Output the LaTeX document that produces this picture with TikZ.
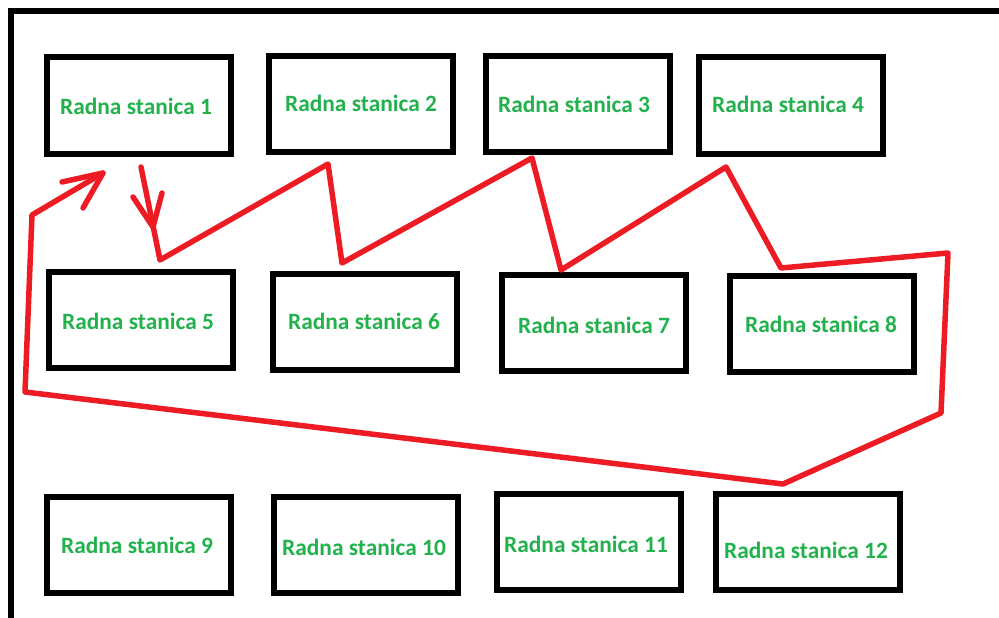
\documentclass[tikz,border=0pt]{standalone}
\usepackage{fontspec}
\setmainfont{Carlito}
\definecolor{pgreen}{HTML}{22B14C}
\definecolor{pred}{HTML}{ED1C24}
\begin{document}
\begin{tikzpicture}[x=1pt,y=-1pt,
  station/.style={draw=black,line width=6pt,minimum width=184pt,minimum height=96pt,inner sep=0pt,outer sep=0pt},
  lbl/.style={text=pgreen,font=\fontsize{23.4}{28}\selectfont\bfseries,anchor=base,inner sep=0pt},
  route/.style={draw=pred,line width=5.5pt,line join=round,line cap=round}]
\useasboundingbox (0,0) rectangle (999,618);
% outer frame (top and left only)
\draw[line width=6pt] (999,11) -- (11,11) -- (11,618);
% stations
\node[station] (s1)  at (139,105.5) {};
\node[station] (s2)  at (361,104) {};
\node[station] (s3)  at (577.5,104) {};
\node[station] (s4)  at (791,105.5) {};
\node[station] (s5)  at (140.5,320) {};
\node[station] (s6)  at (365,321.5) {};
\node[station] (s7)  at (594,323) {};
\node[station] (s8)  at (821.5,324) {};
\node[station] (s9)  at (138.5,545) {};
\node[station] (s10) at (365.5,544.5) {};
\node[station] (s11) at (588.5,542) {};
\node[station] (s12) at (807.5,542) {};
% labels
\node[lbl] (t1)  at (136,114) {Radna stanica 1};
\node[lbl] (t2)  at (361,111) {Radna stanica 2};
\node[lbl] (t3)  at (574,113) {Radna stanica 3};
\node[lbl] (t4)  at (788,112) {Radna stanica 4};
\node[lbl] (t5)  at (138,329) {Radna stanica 5};
\node[lbl] (t6)  at (364,329) {Radna stanica 6};
\node[lbl] (t7)  at (594,333) {Radna stanica 7};
\node[lbl] (t8)  at (821,332) {Radna stanica 8};
\node[lbl] (t9)  at (137,553) {Radna stanica 9};
\node[lbl] (t10) at (364,555) {Radna stanica 10};
\node[lbl] (t11) at (586,552) {Radna stanica 11};
\node[lbl] (t12) at (806,558) {Radna stanica 12};
% route points
\coordinate (p0)  at (141,167);
\coordinate (p1)  at (160,260);
\coordinate (p2)  at (328,164);
\coordinate (p3)  at (342,263);
\coordinate (p4)  at (532,158);
\coordinate (p5)  at (561,270);
\coordinate (p6)  at (726,167);
\coordinate (p7)  at (781,268);
\coordinate (p8)  at (948,253);
\coordinate (p9)  at (941,413);
\coordinate (p10) at (783,484);
\coordinate (p11) at (25,392);
\coordinate (p12) at (32,215);
\coordinate (p13) at (103,173);
% arrowhead points
\coordinate (da)  at (153,227);
\coordinate (dl)  at (133,197);
\coordinate (dr)  at (162,193);
\coordinate (ul)  at (62,182);
\coordinate (ur)  at (83,208);
\draw[route] (p0) -- (p1) -- (p2) -- (p3) -- (p4) -- (p5) -- (p6) -- (p7) -- (p8) -- (p9) -- (p10) -- (p11) -- (p12) -- (p13);
\draw[route] (dl) -- (da) -- (dr);
\draw[route] (ul) -- (p13) -- (ur);
\end{tikzpicture}
\end{document}
